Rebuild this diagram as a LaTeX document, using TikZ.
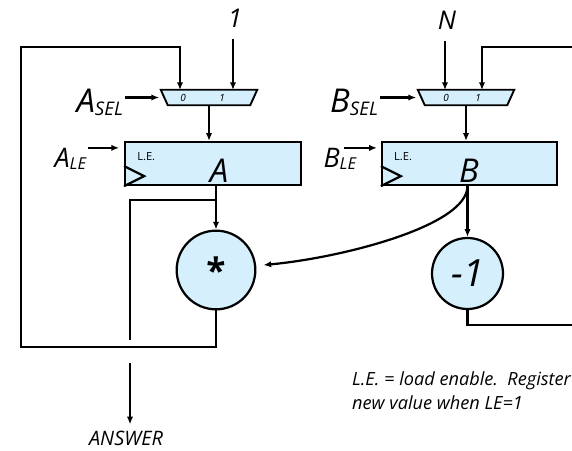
\documentclass[tikz,border=0pt]{standalone}
\usepackage{fontspec}
\setmainfont{Open Sans}
\usetikzlibrary{arrows.meta,positioning}
\definecolor{regblue}{HTML}{D5EFFC}
\newcommand{\selsig}[2]{{\fontsize{28}{28}\selectfont #1}\raisebox{-3pt}{\fontsize{16}{16}\selectfont #2}}
\newcommand{\lesig}[2]{{\fontsize{23}{23}\selectfont #1}\raisebox{-2pt}{\fontsize{14}{14}\selectfont #2}}

\begin{document}
\begin{tikzpicture}[x=0.03cm, y=-0.03cm,
  font=\itshape,
  wire/.style={line width=1.9pt},
  flow/.style={wire, -{Latex[length=2.3mm,width=1.9mm]}},
  reg/.style={draw, line width=1.9pt, fill=regblue, minimum width=5.27cm,
              minimum height=1.29cm, inner sep=0pt},
  mux/.style={minimum width=2.88cm, minimum height=0.45cm, inner sep=0pt},
  muxline/.style={draw, line width=1.6pt, fill=regblue},
  op/.style={draw, circle, line width=1.9pt, fill=regblue, inner sep=0pt},
  muxbit/.style={font=\itshape\fontsize{8.5}{8.5}\selectfont, inner sep=0pt},
  le/.style={font=\upshape\fontsize{9.5}{9.5}\selectfont, inner sep=0pt, anchor=north west},
  regname/.style={font=\itshape\fontsize{28}{28}\selectfont, inner sep=0pt},
  ctrl/.style={anchor=base east, inner sep=1.5pt},
  const/.style={font=\itshape\fontsize{22}{22}\selectfont, inner sep=0pt},
  note/.style={font=\itshape\fontsize{15.5}{21}\selectfont, align=left, anchor=north west, inner sep=0pt}
]
\useasboundingbox (0,0) rectangle (572,450);
\clip (0,0) rectangle (572,450);

% registers, muxes and operators
\node[reg] (regA) at (213,163.5) {};
\node[reg, minimum width=5.25cm] (regB) at (469.5,163.5) {};
\node[mux] (muxA) at (209,97.5) {};
\node[mux] (muxB) at (466,97.5) {};
\draw[muxline] (muxA.north west) -- (muxA.north east) -- ([xshift=-0.21cm]muxA.south east)
  -- ([xshift=0.21cm]muxA.south west) -- cycle;
\draw[muxline] (muxB.north west) -- (muxB.north east) -- ([xshift=-0.21cm]muxB.south east)
  -- ([xshift=0.21cm]muxB.south west) -- cycle;
\node[op, minimum size=2.36cm, font=\bfseries\fontsize{30}{30}\selectfont] (mul) at (216,270) {\raisebox{-0.3em}{*}};
\node[op, minimum size=2.13cm, font=\itshape\fontsize{32}{32}\selectfont] (dec) at (467.5,273.5) {-1};

% register contents
\node[le] (leA) at ([xshift=0.39cm,yshift=-0.33cm]regA.north west) {L.E.};
\node[le] (leB) at ([xshift=0.39cm,yshift=-0.33cm]regB.north west) {L.E.};
\node[regname] (nameA) at (219,171) {A};
\node[regname] (nameB) at (469,171) {B};
\draw[wire] ([yshift=0.6cm]regA.south west) -- ++(20,10) -- (regA.south west);
\draw[wire] ([yshift=0.6cm]regB.south west) -- ++(20,10) -- (regB.south west);

% mux inputs
\coordinate (a0) at (180,90);
\coordinate (a1) at (233,90);
\coordinate (b0) at (445,90);
\coordinate (b1) at (482,90);
\node[muxbit] (bitA0) at (183,98) {0};
\node[muxbit] (bitA1) at (222,98) {1};
\node[muxbit] (bitB0) at (446,98) {0};
\node[muxbit] (bitB1) at (478,98) {1};

% constants
\node[const] (one) at (235,18) {1};
\node[const] (nn) at (447,20) {N};
\draw[flow, shorten <=0.36cm] (a1 |- one.south) -- (a1);
\draw[flow, shorten <=0.36cm] (b0 |- nn.south) -- (b0);

% control signals
\node[ctrl] (asel) at (125,112) {\selsig{A}{SEL}};
\node[ctrl] (bsel) at (380,112) {\selsig{B}{SEL}};
\node[ctrl] (ale) at (88,167) {\lesig{A}{LE}};
\node[ctrl] (ble) at (358,167) {\lesig{B}{LE}};
\coordinate (aLE) at ([yshift=-0.21cm]regA.north west);
\coordinate (bLE) at ([yshift=-0.21cm]regB.north west);
\draw[flow] (asel.east |- muxA.west) -- ([xshift=-0.05cm]muxA.west);
\draw[flow] (bsel.east |- muxB.west) -- ([xshift=-0.05cm]muxB.west);
\draw[flow] (ale.east |- aLE) -- ([xshift=-0.15cm]aLE);
\draw[flow] ([xshift=-0.42cm]ble.east |- bLE) -- ([xshift=-0.12cm]bLE);

% data path A
\coordinate (loopA) at (21,347);
\coordinate (loopTop) at (21,47);
\coordinate (tapA) at (mul.north |- 0,200);
\coordinate (ansEnd) at (130,340);
\coordinate (ansStart) at (130,363);
\node[font=\itshape\fontsize{17}{17}\selectfont, inner sep=0pt, anchor=north] (answer) at (126,431) {ANSWER};
\draw[flow] (muxA.south) -- (muxA.south |- regA.north);
\draw[flow] (mul.north |- regA.south) -- (mul.north);
\draw[flow] (mul.south) |- (loopA) -- (loopTop) -| (a0);
\draw[wire] (tapA) -| (ansEnd);
\draw[flow, shorten >=0.2cm] (ansStart) -- (ansStart |- answer.north);

% data path B
\coordinate (edgeT) at (590,47);
\coordinate (edgeB) at (590,325);
\coordinate (mulIn) at ([xshift=0.21cm,yshift=0.15cm]mul.east);
\draw[flow] (muxB.south) -- (muxB.south |- regB.north);
\draw[flow] (dec.north |- regB.south) -- (dec.north);
\draw[wire] (dec.south) |- (edgeB);
\draw[flow] (edgeT) -| (b1);
\draw[flow] (dec.north |- regB.south) .. controls +(0,40) and +(77,-7) .. (mulIn);

\node[note] (lenote) at (352,371) {L.E. = load enable.\ \ Register\\new value when LE=1};
\end{tikzpicture}
\end{document}
